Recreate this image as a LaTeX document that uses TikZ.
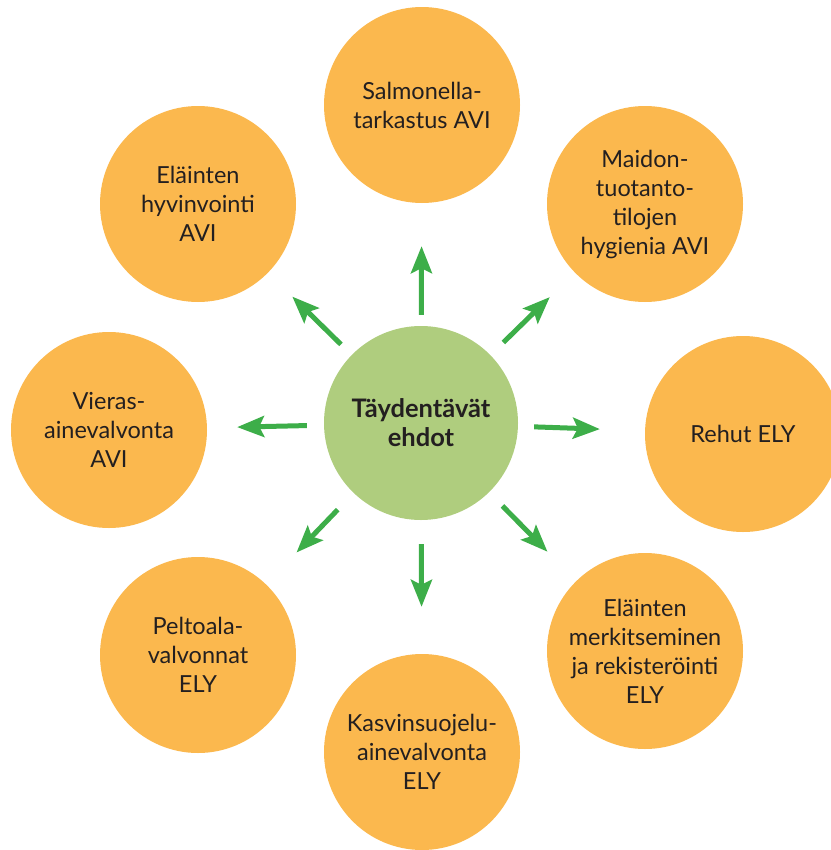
\documentclass[tikz,border=0pt]{standalone}
\usepackage{fontspec}
\setmainfont{Lato}
\usetikzlibrary{arrows.meta}
\definecolor{orangefill}{RGB}{251,184,78}
\definecolor{greenfill}{RGB}{175,205,126}
\definecolor{arrowgreen}{RGB}{61,174,73}
\definecolor{textdark}{RGB}{35,31,32}

\begin{document}
\begin{tikzpicture}[>={Stealth[length=27bp,width=21bp,inset=5bp]}, x=1bp, y=1bp]
 \tikzstyle{task}=[circle, fill=orangefill, minimum size=196bp, inner sep=0pt, align=center, text=textdark, font=\fontsize{23.5bp}{29bp}\selectfont]
 \tikzstyle{main}=[circle, fill=greenfill, minimum size=194bp, inner sep=0pt, align=center, text=textdark, font=\fontsize{25.5bp}{29bp}\selectfont\bfseries]
 \tikzstyle{link}=[->, line width=5bp, draw=arrowgreen, fill=arrowgreen]
 \useasboundingbox (0bp,0bp) rectangle (831bp,-850bp);

 \node (center) at (421bp,-423bp) [main] {Täydentävät\\ehdot};

 \node (salmonella) at (422bp,-105bp) [task] {Salmonella-\\tarkastus AVI};
 \node (maito) at (645bp,-204bp) [task] {Maidon-\\tuotanto-\\tilojen\\hygienia AVI};
 \node (rehut) at (743bp,-434bp) [task] {Rehut ELY};
 \node (merkinta) at (645bp,-651bp) [task] {Eläinten\\merkitseminen\\ja rekisteröinti\\ELY};
 \node (kasvinsuojelu) at (422bp,-752bp) [task] {Kasvinsuojelu-\\ainevalvonta\\ELY};
 \node (peltoala) at (198bp,-655bp) [task] {Peltoala-\\valvonnat\\ELY};
 \node (vieras) at (109bp,-430bp) [task] {Vieras-\\ainevalvonta\\AVI};
 \node (hyvinvointi) at (198bp,-204bp) [task] {Eläinten\\hyvinvointi\\AVI}; %same row as maito

 \draw [link, shorten <=11bp, shorten >=43bp] (center) -- (salmonella);
 \draw [link, shorten <=18bp, shorten >=35bp] (center) -- (maito);
 \draw [link, shorten <=16bp, shorten >=45bp] (center) -- (rehut);
 \draw [link, shorten <=19bp, shorten >=41bp] (center) -- (merkinta);
 \draw [link, shorten <=24bp, shorten >=47bp] (center) -- (kasvinsuojelu);
 \draw [link, shorten <=23bp, shorten >=44bp] (center) -- (peltoala);
 \draw [link, shorten <=17bp, shorten >=30bp] (center) -- (vieras);
 \draw [link, shorten <=15bp, shorten >=34bp] (center) -- (hyvinvointi);

\end{tikzpicture}
\end{document}
